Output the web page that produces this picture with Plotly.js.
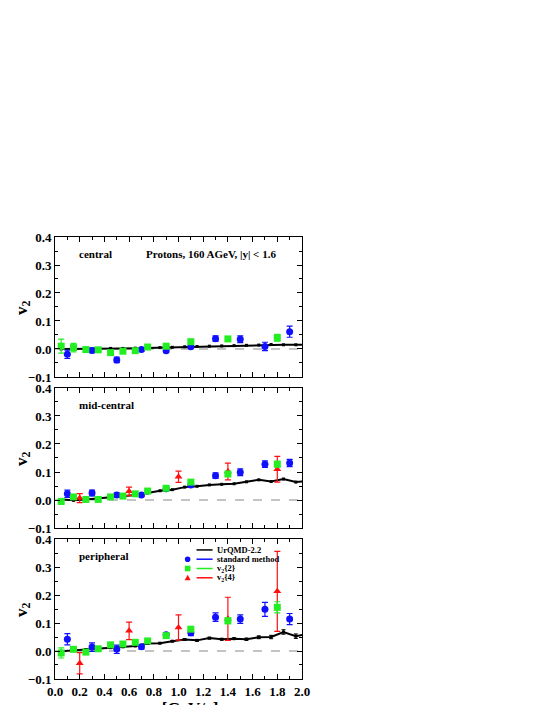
<!DOCTYPE html>
<html>
<head>
<meta charset="utf-8">
<script src="https://cdn.plot.ly/plotly-3.0.1.min.js"></script>
<style>html,body{margin:0;padding:0;background:#fff}</style>
</head>
<body>
<div id="chart" style="width:545px;height:705px"></div>
<script>
// UrQMD-2.2 curve (black)
const urqmdX = [0.05,0.15,0.25,0.35,0.45,0.55,0.65,0.75,0.85,0.95,1.05,1.15,1.25,1.35,1.45,1.55,1.65,1.75,1.85,1.95,2.05];
const urqmdCentral = [0.000,0.000,0.000,0.001,0.002,0.002,0.003,0.004,0.005,0.006,0.008,0.009,0.010,0.011,0.012,0.013,0.014,0.016,0.015,0.015,0.016];
const urqmdMid     = [0.002,-0.001,0.002,0.006,0.009,0.012,0.018,0.025,0.033,0.037,0.046,0.049,0.054,0.056,0.058,0.065,0.072,0.066,0.075,0.064,0.068];
const urqmdPeri    = [-0.001,0.002,0.005,0.008,0.012,0.015,0.018,0.027,0.028,0.035,0.041,0.038,0.046,0.042,0.044,0.042,0.049,0.050,0.068,0.053,0.061];
const urqmdPeriErr = [0.002,0.002,0.002,0.002,0.002,0.002,0.002,0.002,0.002,0.002,0.003,0.003,0.003,0.003,0.003,0.004,0.005,0.006,0.008,0.008,0.009];

// standard method (blue)
const stdX = [0.1,0.3,0.5,0.7,0.9,1.1,1.3,1.5,1.7,1.9];
const stdCentral    = [-0.019,-0.005,-0.039,-0.002,-0.006,0.008,0.037,0.035,0.009,0.062];
const stdCentralErr = [0.015,0.008,0.010,0.006,0.005,0.006,0.010,0.012,0.015,0.020];
const stdMid        = [0.022,0.025,0.018,0.018,0.040,0.054,0.087,0.099,0.128,0.132];
const stdMidErr     = [0.013,0.010,0.008,0.005,0.005,0.006,0.010,0.012,0.012,0.013];
const stdPeri       = [0.042,0.014,0.006,0.015,0.058,0.065,0.121,0.114,0.149,0.114];
const stdPeriErr    = [0.020,0.015,0.015,0.008,0.008,0.010,0.015,0.015,0.025,0.020];

// v2{2} (green)
const v22X = [0.05,0.15,0.25,0.35,0.45,0.55,0.65,0.75,0.9,1.1,1.4,1.8];
const v22Central    = [0.010,0.005,-0.002,-0.003,-0.013,-0.008,-0.006,0.007,0.010,0.026,0.036,0.040];
const v22CentralErr = [0.025,0.015,0.008,0.005,0.004,0.004,0.004,0.004,0.005,0.006,0.006,0.012];
const v22Mid        = [-0.005,0.011,0.002,0.002,0.011,0.014,0.022,0.032,0.042,0.064,0.093,0.128];
const v22MidErr     = [0.010,0.005,0.004,0.004,0.004,0.004,0.004,0.004,0.005,0.006,0.008,0.010];
const v22Peri       = [-0.007,0.006,-0.004,0.008,0.022,0.025,0.031,0.036,0.055,0.078,0.108,0.156];
const v22PeriErr    = [0.018,0.008,0.005,0.005,0.005,0.005,0.005,0.005,0.007,0.008,0.010,0.020];

// v2{4} (red)
const v24X = [0.2,0.6,1.0,1.4,1.8];
const v24Mid     = [0.007,0.031,0.083,0.102,0.110];
const v24MidErr  = [0.016,0.015,0.020,0.030,0.046];
const v24Peri    = [-0.044,0.072,0.084,0.115,0.213];
const v24PeriErr = [0.038,0.031,0.045,0.077,0.143];

const panelNames = ['central', 'mid-central', 'peripheral'];
const legendNames = ['UrQMD-2.2', 'standard method', 'v<sub>2</sub>{2}', 'v<sub>2</sub>{4}'];

const BLUE = '#1010ff', GREEN = '#22ee22', RED = '#ff1010';
const FONT = 'Liberation Serif, Times New Roman, serif';

function urqmdTrace(y, err, ax) {
  return { x: urqmdX, y: y, xaxis: 'x' + ax, yaxis: 'y' + ax, name: 'UrQMD-2.2',
    mode: 'lines+markers', line: { color: '#000', width: 2 }, marker: { color: '#000', size: 3, symbol: 'square' },
    error_y: err ? { type: 'data', array: err, color: '#000', thickness: 1, width: 2 } : undefined };
}
function ptsTrace(x, y, err, ax, name, color, symbol, size) {
  return { x: x, y: y, xaxis: 'x' + ax, yaxis: 'y' + ax, name: name, mode: 'markers',
    marker: { color: color, symbol: symbol, size: size },
    error_y: { type: 'data', array: err, color: color, thickness: 1.2, width: 3 } };
}

const traces = [
  urqmdTrace(urqmdCentral, null, 1),
  ptsTrace(stdX, stdCentral, stdCentralErr, 1, 'standard method', BLUE, 'circle', 7),
  ptsTrace(v22X, v22Central, v22CentralErr, 1, 'v2{2}', GREEN, 'square', 7),

  urqmdTrace(urqmdMid, null, 2),
  ptsTrace(stdX, stdMid, stdMidErr, 2, 'standard method', BLUE, 'circle', 7),
  ptsTrace(v24X, v24Mid, v24MidErr, 2, 'v2{4}', RED, 'triangle-up', 7),
  ptsTrace(v22X, v22Mid, v22MidErr, 2, 'v2{2}', GREEN, 'square', 7),

  urqmdTrace(urqmdPeri, urqmdPeriErr, 3),
  ptsTrace(stdX, stdPeri, stdPeriErr, 3, 'standard method', BLUE, 'circle', 7),
  ptsTrace(v24X, v24Peri, v24PeriErr, 3, 'v2{4}', RED, 'triangle-up', 7),
  ptsTrace(v22X, v22Peri, v22PeriErr, 3, 'v2{2}', GREEN, 'square', 7),
];

const domains = [[0.6833, 1], [0.3416, 0.6584], [0, 0.3167]];

const layout = {
  width: 545, height: 705,
  margin: { l: 55, r: 243, t: 237, b: 26 },
  paper_bgcolor: '#fff', plot_bgcolor: '#fff',
  font: { family: FONT, color: '#000' },
  showlegend: false,
  shapes: [], annotations: []
};

domains.forEach((d, i) => {
  const n = i + 1;
  layout['xaxis' + n] = {
    domain: [0, 1], anchor: 'y' + n, range: [0, 2], dtick: 0.2, tick0: 0,
    showticklabels: n === 3, tickformat: '.1f',
    ticks: 'inside', ticklen: 5, tickwidth: 1, tickcolor: '#000',
    minor: { dtick: 0.1, ticks: 'inside', ticklen: 3, tickcolor: '#000' },
    showline: true, linecolor: '#000', linewidth: 1, mirror: 'allticks',
    showgrid: false, zeroline: false,
    tickfont: { family: FONT, size: 13, weight: 'bold' }
  };
  layout['yaxis' + n] = {
    domain: d, anchor: 'x' + n, range: [-0.1, 0.4], dtick: 0.1, tick0: 0, tickformat: '.1f',
    ticks: 'inside', ticklen: 5, tickwidth: 1, tickcolor: '#000',
    minor: { dtick: 0.05, ticks: 'inside', ticklen: 3, tickcolor: '#000' },
    showline: true, linecolor: '#000', linewidth: 1, mirror: 'allticks',
    showgrid: false, zeroline: false,
    tickfont: { family: FONT, size: 13, weight: 'bold' }
  };
  // dashed zero line
  layout.shapes.push({ type: 'line', xref: 'x' + n + ' domain', yref: 'y' + n, x0: 0, x1: 1, y0: 0, y1: 0,
    line: { color: '#888', width: 1, dash: 'dash' }, layer: 'below' });
  layout.annotations.push({ text: panelNames[i], xref: 'x' + n + ' domain', yref: 'y' + n + ' domain',
    x: 0.088, y: 0.88, xanchor: 'left', yanchor: 'middle', showarrow: false,
    font: { family: FONT, size: 11, weight: 'bold' } });
  // y title
  layout.annotations.push({ text: 'v<sub>2</sub>', xref: 'paper', yref: 'y' + n + ' domain',
    x: -0.13, y: 0.5, xanchor: 'center', yanchor: 'middle', textangle: -90, showarrow: false,
    font: { family: FONT, size: 17, weight: 'bold' } });
});

layout.annotations.push({ text: 'Protons, 160 AGeV, |y| < 1.6', xref: 'x1 domain', yref: 'y1 domain',
  x: 0.36, y: 0.88, xanchor: 'left', yanchor: 'middle', showarrow: false,
  font: { family: FONT, size: 11, weight: 'bold' } });

// x title (partly cut at the bottom, as in the original)
layout.annotations.push({ text: 'p<sub>T</sub> [GeV/c]', xref: 'paper', yref: 'paper',
  x: 0.5, y: -0.04, xanchor: 'center', yanchor: 'top', showarrow: false,
  font: { family: FONT, size: 17, weight: 'bold' } });

// legend (drawn by hand: marker, line, label per row)
const legColors = ['#000', BLUE, GREEN, RED];
const legRowY = [0.292, 0.271, 0.250, 0.229];
const legMarkX = 0.537, legLineX0 = 0.573, legLineX1 = 0.638, legTextX = 0.646;
const legSymbols = [null, 'circle', 'rect', 'tri'];
legendNames.forEach((name, i) => {
  const c = legColors[i], yy = legRowY[i];
  layout.shapes.push({ type: 'line', xref: 'paper', yref: 'paper', x0: legLineX0, x1: legLineX1, y0: yy, y1: yy,
    line: { color: c, width: 1.5 } });
  const s = legSymbols[i];
  if (s === 'circle' || s === 'rect') {
    layout.shapes.push({ type: s, xref: 'paper', yref: 'paper', xsizemode: 'pixel', ysizemode: 'pixel',
      xanchor: legMarkX, yanchor: yy, x0: -2.8, x1: 2.8, y0: -2.8, y1: 2.8,
      fillcolor: c, line: { width: 0 } });
  } else if (s === 'tri') {
    layout.shapes.push({ type: 'path', xref: 'paper', yref: 'paper', xsizemode: 'pixel', ysizemode: 'pixel',
      xanchor: legMarkX, yanchor: yy, path: 'M-3,-2.5 L3,-2.5 L0,3 Z', fillcolor: c, line: { width: 0 } });
  }
  layout.annotations.push({ text: name, xref: 'paper', yref: 'paper', x: legTextX, y: yy,
    xanchor: 'left', yanchor: 'middle', showarrow: false,
    font: { family: FONT, size: 8.5, weight: 'bold' } });
});

Plotly.newPlot('chart', traces, layout, { displayModeBar: false, staticPlot: true });
</script>
</body>
</html>
